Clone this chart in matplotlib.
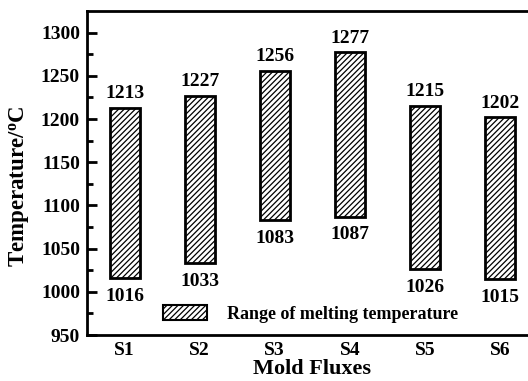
import matplotlib
matplotlib.use("Agg")
import matplotlib.pyplot as plt
from matplotlib.patches import Patch

fluxes = ["S1", "S2", "S3", "S4", "S5", "S6"]
melt_low = [1016, 1033, 1083, 1087, 1026, 1015]
melt_high = [1213, 1227, 1256, 1277, 1215, 1202]

plt.rcParams["font.family"] = ["Liberation Serif", "DejaVu Serif"]
plt.rcParams["font.weight"] = "bold"
plt.rcParams["hatch.linewidth"] = 0.9

fig = plt.figure(figsize=(5.28, 3.81), dpi=100)
W, H = 528, 381
left, right, top, bottom = 87, 537.5, 11, 335
ax = fig.add_axes([left / W, 1 - bottom / H, (right - left) / W, (bottom - top) / H])

x = list(range(len(fluxes)))
heights = [h - l for l, h in zip(melt_low, melt_high)]
ax.bar(x, heights, bottom=melt_low, width=0.4, facecolor="white",
       edgecolor="black", linewidth=2, hatch="//////")

for xi, lo, hi in zip(x, melt_low, melt_high):
    ax.annotate(f"{hi}", (xi, hi), xytext=(0, 4), textcoords="offset points",
                ha="center", va="bottom", fontsize=14, fontweight="bold")
    ax.annotate(f"{lo}", (xi, lo), xytext=(0, -7), textcoords="offset points",
                ha="center", va="top", fontsize=14, fontweight="bold")

ax.set_xlim(-0.5, 5.5)
ax.set_ylim(950, 1325)
ax.set_xticks(x)
ax.set_xticklabels(fluxes)
ax.set_yticks([950, 1000, 1050, 1100, 1150, 1200, 1250, 1300])
ax.set_yticks(range(975, 1325, 50), minor=True)
ax.tick_params(axis="y", which="major", direction="in", length=7, width=2,
               labelsize=14, pad=5)
ax.tick_params(axis="y", which="minor", direction="in", length=4, width=2)
ax.tick_params(axis="x", length=0, labelsize=14, pad=5)
for lab in ax.get_xticklabels() + ax.get_yticklabels():
    lab.set_fontweight("bold")

for s in ["left", "bottom", "top"]:
    ax.spines[s].set_linewidth(2)
ax.spines["right"].set_visible(False)

ax.set_xlabel("Mold Fluxes", fontsize=16, fontweight="bold", labelpad=0)
ax.set_ylabel("Temperature/$\\mathregular{^o}$C", fontsize=16.5, fontweight="bold")
ax.yaxis.set_label_coords(-0.122, 0.458)

legend_handle = Patch(facecolor="white", edgecolor="black", linewidth=1.5,
                      hatch="//////", label="Range of melting temperature")
ax.legend(handles=[legend_handle], loc="lower left",
          bbox_to_anchor=(0.132, -0.012), frameon=False,
          handlelength=2.45, handleheight=0.85, handletextpad=1.1,
          prop={"weight": "bold", "size": 13})

fig.savefig("out.png", dpi=100)
